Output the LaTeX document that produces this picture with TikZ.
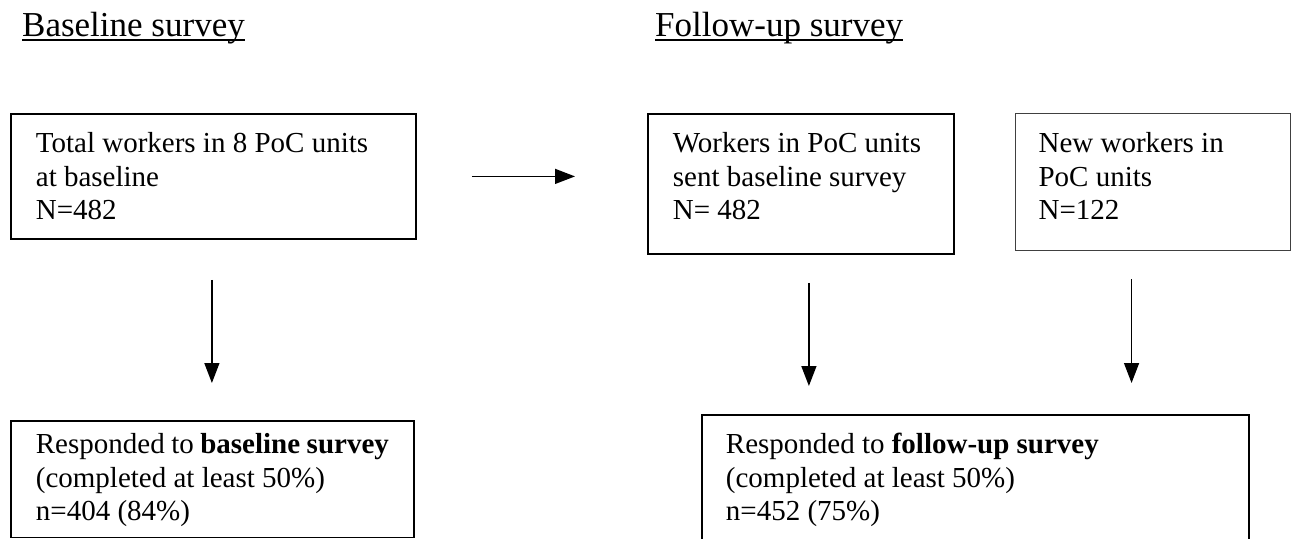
\documentclass[tikz,border=0pt]{standalone}
\usepackage{fontspec}
\setmainfont{Liberation Serif}
\usetikzlibrary{arrows.meta}
\newcommand\btext[4]{\begin{minipage}[t][#2][t]{#1}\raggedright\fontsize{29pt}{33.5pt}\selectfont\rule{0pt}{#3}#4\end{minipage}}
\newcommand\myul[1]{\setbox0\hbox{#1}\rlap{\rule[-4.5pt]{\wd0}{1.8pt}}\box0}
\begin{document}
\begin{tikzpicture}[x=1pt,y=-1pt,
  box/.style={draw, line width=1.8pt, inner xsep=25pt, inner ysep=0pt, anchor=north west},
  thinbox/.style={box, line width=1.1pt, draw=black!75},
  arr/.style={line width=1.4pt, -{Triangle[length=20pt,width=15pt]}},
  title/.style={anchor=base west, inner sep=0pt, font=\fontsize{35pt}{38pt}\selectfont}]
\useasboundingbox (0,0) rectangle (1295,538);
\clip (0,0) rectangle (1295,538);
\node[title] (t1) at (22,36.5) {\myul{Baseline survey}};
\node[title] (t2) at (655,36.5) {\myul{Follow-up survey}};
\node[box] (b1) at (10,113) {\btext{355pt}{125pt}{39pt}{Total workers in 8 PoC units\\at baseline\\N=482}};
\node[box] (b2) at (647,113) {\btext{256pt}{140pt}{39pt}{Workers in PoC units\\sent baseline survey\\N= 482}};
\node[thinbox, inner xsep=23pt] (b3) at (1015,113) {\btext{229pt}{137pt}{39pt}{New workers in\\PoC units\\N=122}};
\node[box] (b4) at (10,420) {\btext{353pt}{116.5pt}{33pt}{Responded to \textbf{baseline survey}\\(completed at least 50\%)\\n=404 (84\%)}};
\node[box, inner xsep=24pt] (b5) at (701,414) {\btext{499pt}{157pt}{39pt}{Responded to \textbf{follow-up survey}\\(completed at least 50\%)\\n=452 (75\%)}};
\draw[arr, shorten <=55pt, shorten >=72pt] (b1.east) -- (b1.east -| b2.west);
\draw[arr, shorten <=40pt, shorten >=37pt] ([xshift=-1.5pt]b1.south) -- ([xshift=-1.5pt]b1.south |- b4.north);
\draw[arr, shorten <=28pt, shorten >=28pt] ([xshift=8pt]b2.south) -- ([xshift=8pt]b2.south |- b5.north);
\draw[arr, shorten <=28pt, shorten >=31pt] ([xshift=-21.5pt]b3.south) -- ([xshift=-21.5pt]b3.south |- b5.north);
\end{tikzpicture}
\end{document}
